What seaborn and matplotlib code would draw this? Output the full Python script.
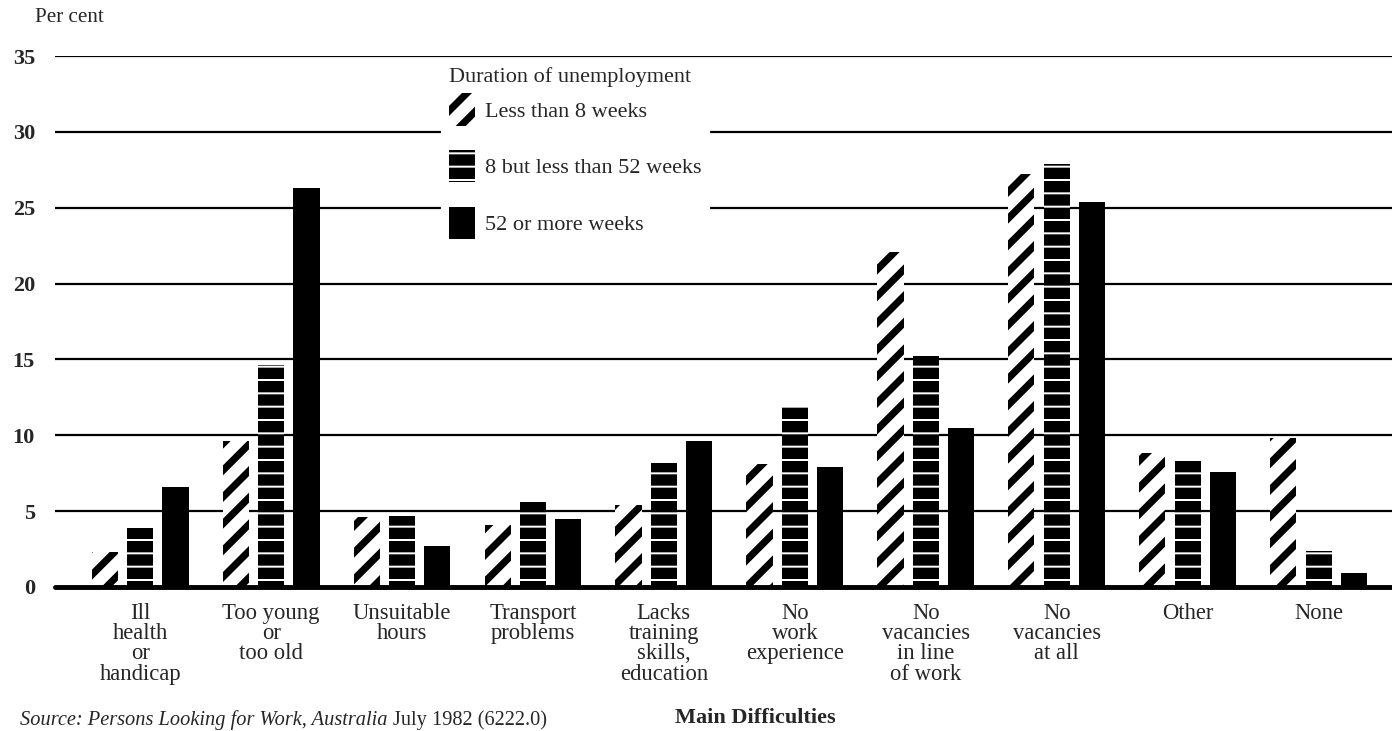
import matplotlib
matplotlib.use("Agg")
import matplotlib.pyplot as plt
import seaborn as sns
import pandas as pd
from matplotlib.patches import Patch

categories = ["Ill\nhealth\nor\nhandicap", "Too young\nor\ntoo old", "Unsuitable\nhours",
              "Transport\nproblems", "Lacks\ntraining\nskills,\neducation", "No\nwork\nexperience",
              "No\nvacancies\nin line\nof work", "No\nvacancies\nat all", "Other", "None"]
series_names = ["Less than 8 weeks", "8 but less than 52 weeks", "52 or more weeks"]
less_8 = [2.3, 9.6, 4.6, 4.1, 5.4, 8.1, 22.1, 27.2, 8.8, 9.8]
w8_52 = [3.9, 14.6, 4.7, 5.6, 8.2, 11.9, 15.2, 27.9, 8.4, 2.4]
w52_plus = [6.6, 26.3, 2.7, 4.5, 9.6, 7.9, 10.5, 25.4, 7.6, 0.9]
yticks = [0, 5, 10, 15, 20, 25, 30, 35]

rows = []
for name, vals in zip(series_names, [less_8, w8_52, w52_plus]):
    for c, v in zip(categories, vals):
        rows.append({"difficulty": c, "duration": name, "pct": v})
df = pd.DataFrame(rows)

sns.set_style("white")
plt.rcParams["font.family"] = ["Liberation Serif", "DejaVu Serif"]
plt.rcParams["font.size"] = 9

DPI = 160
fig = plt.figure(figsize=(1392 / DPI, 731 / DPI), dpi=DPI)
ax = fig.add_axes([55 / 1392, 1 - 587 / 731, 1 - 55 / 1392, (587 - 56) / 731])

sns.barplot(data=df, x="difficulty", y="pct", hue="duration", order=categories,
            hue_order=series_names, palette=["white", "black", "black"],
            width=0.81, gap=0.26, legend=False, ax=ax, zorder=3)

styles = [
    dict(face="white", edge="black", hatch="//", hlw=3.2),
    dict(face="black", edge="white", hatch="--", hlw=0.9),
    dict(face="black", edge="black", hatch=None, hlw=1.0),
]
for cont, st in zip(ax.containers, styles):
    for p in cont:
        p.set_facecolor(st["face"])
        p.set_edgecolor(st["edge"])
        p.set_linewidth(0)
        if st["hatch"]:
            p.set_hatch(st["hatch"])
            try:
                p.set_hatch_linewidth(st["hlw"])
            except Exception:
                pass

ax.set_ylim(0, 35)
ax.set_xlim(-0.65, 9.56)
ax.set_yticks(yticks)
ax.set_yticklabels([str(t) for t in yticks], fontsize=10, fontweight="bold")
ax.yaxis.grid(True, color="black", linewidth=1.0, zorder=0)
ax.set_axisbelow(True)
ax.axhline(0, color="black", linewidth=2.2, zorder=4, clip_on=False)
for s in ax.spines.values():
    s.set_visible(False)
ax.tick_params(axis="both", length=0)
ax.tick_params(axis="y", pad=9)
ax.tick_params(axis="x", pad=7)
for lab in ax.get_xticklabels():
    lab.set_linespacing(0.96)
    lab.set_fontsize(10.2)
ax.set_xlabel("")
ax.set_ylabel("")

fig.text(35 / 1392, 1 - 18 / 731, "Per cent", fontsize=9.5, va="center", ha="left")
fig.text(755 / 1392, 1 - 718 / 731, "Main Difficulties", fontsize=10,
         fontweight="bold", va="center", ha="center")
src1 = fig.text(20 / 1392, 0.002, "Source: Persons Looking for Work, Australia ",
                fontsize=9.2, style="italic", va="bottom", ha="left")
fig.canvas.draw()
bb = src1.get_window_extent()
x_end = bb.x1 / fig.bbox.width
fig.text(x_end, 0.002, "July 1982 (6222.0)", fontsize=9.2, va="bottom", ha="left")

handles = []
for st in styles:
    h = Patch(facecolor=st["face"], edgecolor=st["edge"], hatch=st["hatch"], linewidth=0)
    handles.append(h)
leg = fig.legend(handles, series_names, title="Duration of unemployment",
                 loc="upper left", bbox_to_anchor=(431 / 1392, 1 - 49 / 731),
                 frameon=True, framealpha=1, edgecolor="white", fancybox=False,
                 handlelength=1.2, handleheight=1.85, labelspacing=1.1,
                 handletextpad=0.45, fontsize=10, title_fontsize=10,
                 alignment="left", borderpad=0.3)
leg._legend_box.sep = 3
for h, st in zip(leg.legend_handles, styles):
    try:
        h.set_hatch_linewidth(st["hlw"])
    except Exception:
        pass

fig.savefig("out.png", dpi=DPI)
